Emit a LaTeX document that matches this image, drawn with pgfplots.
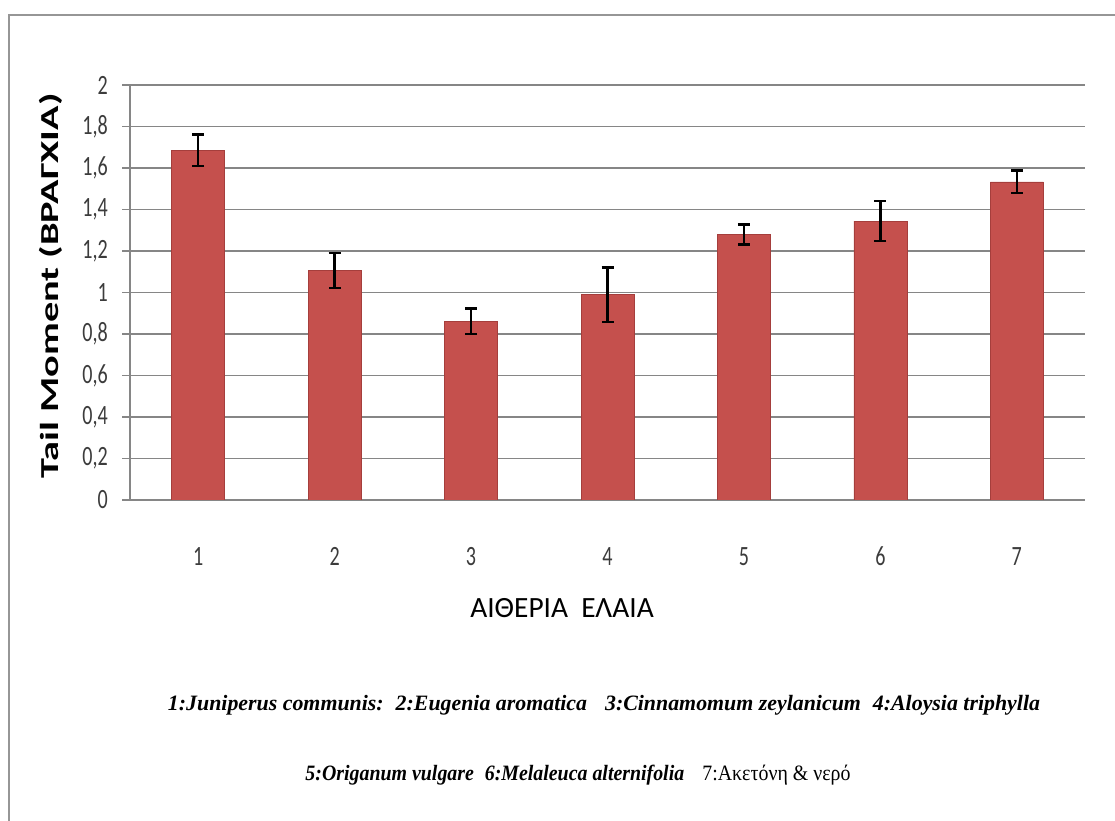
\documentclass[border=0pt]{standalone}
\usepackage{fontspec}
\setmainfont{Carlito}
\newfontfamily\tickfont{Carlito}[FakeStretch=0.72]
\newfontfamily\capfont{Liberation Serif}
\usepackage{graphicx}
\usepackage{pgfplots}
\pgfplotsset{compat=1.18}
\definecolor{barred}{RGB}{197,80,77}
\definecolor{bardark}{RGB}{165,62,60}
\definecolor{gridgray}{RGB}{134,134,134}
\definecolor{framegray}{RGB}{150,150,150}
\definecolor{ticktext}{RGB}{60,60,60}

\begin{document}
\begin{tikzpicture}[x=1bp,y=1bp]
\path[use as bounding box, fill=white] (0,0) rectangle (1115,821);
\draw[framegray, line width=2bp] (9,0) -- (9,806) -- (1115,806);
\begin{axis}[
  at={(130bp,321bp)}, anchor=south west,
  scale only axis, width=955bp, height=415bp,
  xmin=0.5, xmax=7.5, ymin=0, ymax=2,
  xtick={1,2,3,4,5,6,7},
  ytick={0,0.2,0.4,0.6,0.8,1,1.2,1.4,1.6,1.8,2},
  axis x line*=bottom, axis y line*=left,
  axis line style={gridgray, line width=1.2bp},
  ymajorgrids, grid style={gridgray, line width=1.2bp},
  major tick length=8bp, tick align=outside,
  xtick style={draw=none},
  ytick style={gridgray, line width=1.2bp},
  yticklabel style={font=\tickfont\fontsize{28}{30}\selectfont, text=ticktext, anchor=east, inner sep=0pt, xshift=-14bp},
  xticklabel style={font=\tickfont\fontsize{28}{30}\selectfont, text=ticktext, anchor=base, inner sep=0pt, yshift=-58bp},
  /pgf/number format/use comma,
  /pgf/number format/assume math mode=true,
]
\addplot[ybar, bar width=53bp, fill=barred, draw=bardark, line width=0.6bp,
  error bars/.cd, y dir=both, y explicit, error mark=|,
  error bar style={black, line width=2.4bp},
  error mark options={black, line width=2.4bp, mark size=6bp}]
coordinates {
  (1,1.686) +- (0,0.076)
  (2,1.107) +- (0,0.084)
  (3,0.861) +- (0,0.061)
  (4,0.990) +- (0,0.131)
  (5,1.279) +- (0,0.048)
  (6,1.344) +- (0,0.097)
  (7,1.533) +- (0,0.054)
};
\end{axis}
\node[rotate=90] at (51,535) {\resizebox{385bp}{\height}{\bfseries\fontsize{26}{30}\selectfont Tail Moment (ΒΡΑΓΧΙΑ)}};
\node at (562,213) {\fontsize{29.5}{33}\selectfont ΑΙΘΕΡΙΑ\ \ ΕΛΑΙΑ};
\node at (604,116) {\resizebox{872bp}{\height}{\capfont\bfseries\itshape\fontsize{22}{26}\selectfont 1:Juniperus communis:\hspace{12bp}2:Eugenia aromatica\hspace{18bp}3:Cinnamomum zeylanicum\hspace{12bp}4:Aloysia triphylla}};
\node at (578,46) {\resizebox{545bp}{\height}{\capfont\fontsize{22}{26}\selectfont{\bfseries\itshape 5:Origanum vulgare\hspace{12bp}6:Melaleuca alternifolia}\hspace{20bp}7:Ακετόνη \& νερό}};
\end{tikzpicture}
\end{document}
